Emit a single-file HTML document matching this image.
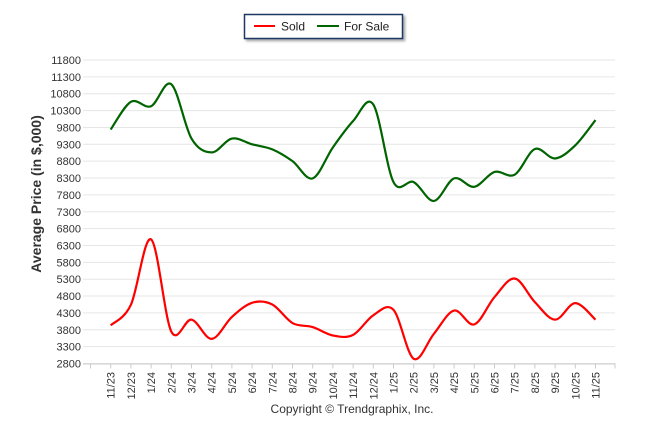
<!DOCTYPE html>
<html><head><meta charset="utf-8"><style>
body{margin:0;background:#fff;}
svg text{font-family:"Liberation Sans",sans-serif;}
</style></head><body>
<svg width="646" height="434" viewBox="0 0 646 434" xmlns="http://www.w3.org/2000/svg">
<defs><filter id="sh" x="-10%" y="-10%" width="130%" height="150%"><feDropShadow dx="2" dy="2" stdDeviation="1.2" flood-color="#000" flood-opacity="0.35"/></filter></defs>
<g id="grid"></g>
<g id="yaxis"></g>
<g id="xaxis"></g>
<g id="series"></g>
<text transform="translate(41,194) rotate(-90)" text-anchor="middle" font-size="14" font-weight="bold" fill="#333">Average Price (in $,000)</text>
<g>
<rect x="244.5" y="14.5" width="158" height="24" fill="#fff" stroke="#1f3864" stroke-width="1.5" filter="url(#sh)"/>
<g><line x1="254" y1="26" x2="275" y2="26" stroke="#f00" stroke-width="2"/><text x="281" y="30.5" font-size="12" fill="#222">Sold</text></g>
<g><line x1="317" y1="26" x2="339" y2="26" stroke="#006400" stroke-width="2"/><text x="344" y="30.5" font-size="12" fill="#222">For Sale</text></g>
</g>
<text x="352" y="413" text-anchor="middle" font-size="12" fill="#333">Copyright © Trendgraphix, Inc.</text>
</svg>
<script>
const categories=["11/23","12/23","1/24","2/24","3/24","4/24","5/24","6/24","7/24","8/24","9/24","10/24","11/24","12/24","1/25","2/25","3/25","4/25","5/25","6/25","7/25","8/25","9/25","10/25","11/25"];
const soldValues=[3930,4540,6480,3750,4100,3530,4180,4600,4550,4000,3880,3630,3650,4230,4390,2940,3680,4370,3960,4770,5320,4620,4100,4590,4100];
const forSaleValues=[9740,10560,10430,11080,9470,9060,9470,9300,9150,8800,8290,9210,9990,10480,8180,8180,7620,8290,8040,8480,8400,9160,8880,9270,10020];
const yTicks=[2800,3300,3800,4300,4800,5300,5800,6300,6800,7300,7800,8300,8800,9300,9800,10300,10800,11300,11800];
const NS="http://www.w3.org/2000/svg";
const yMin=2800,yMax=11800,yTop=60,yBot=363.5,xL=83,xR=615,x0=110.7,dx=20.2;
function y(v){return yBot-(v-yMin)/(yMax-yMin)*(yBot-yTop);}
function x(i){return x0+i*dx;}
function mk(tag,attrs,parent){const e=document.createElementNS(NS,tag);for(const k in attrs)e.setAttribute(k,attrs[k]);parent.appendChild(e);return e;}
const grid=document.getElementById('grid'),ya=document.getElementById('yaxis'),xa=document.getElementById('xaxis'),ser=document.getElementById('series');
yTicks.forEach(t=>{
 const l=mk('line',{x1:xL,x2:xR,y1:y(t),y2:y(t),stroke:'#e6e6e6','stroke-width':1},grid);
 
 
 const tx=mk('text',{x:81,y:y(t)+4,'text-anchor':'end','font-size':11,fill:'#333'},ya);
 tx.textContent=t;
 
 
});
mk('line',{x1:xL,x2:xR,y1:yBot+0.5,y2:yBot+0.5,stroke:'#ccc','stroke-width':1},xa);
[90.5,xR].forEach(px=>mk('line',{x1:px,x2:px,y1:yBot,y2:yBot+5,stroke:'#ccc'},xa));
categories.forEach((c,i)=>{
 mk('line',{x1:x(i),x2:x(i),y1:yBot,y2:yBot+5,stroke:'#ccc'},xa);
 const tx=mk('text',{transform:`translate(${x(i)+4},372) rotate(-90)`,'text-anchor':'end','font-size':11,fill:'#333'},xa);
 tx.textContent=c;
 
 
});
function path(vals){
 const p=vals.map((v,i)=>[x(i),y(v)]);
 let d=`M${p[0][0]},${p[0][1]}`;
 for(let i=0;i<p.length-1;i++){
  const a=p[Math.max(0,i-1)],b=p[i],c=p[i+1],e=p[Math.min(p.length-1,i+2)];
  const c1=[b[0]+(c[0]-a[0])/6,b[1]+(c[1]-a[1])/6],c2=[c[0]-(e[0]-b[0])/6,c[1]-(e[1]-b[1])/6];
  d+=` C${c1[0]},${c1[1]} ${c2[0]},${c2[1]} ${c[0]},${c[1]}`;
 }
 return d;
}
const g=mk('path',{d:path(forSaleValues),fill:'none',stroke:'#006400','stroke-width':2.2},ser);


const r=mk('path',{d:path(soldValues),fill:'none',stroke:'#f00','stroke-width':2.2},ser);


</script>
</body></html>
